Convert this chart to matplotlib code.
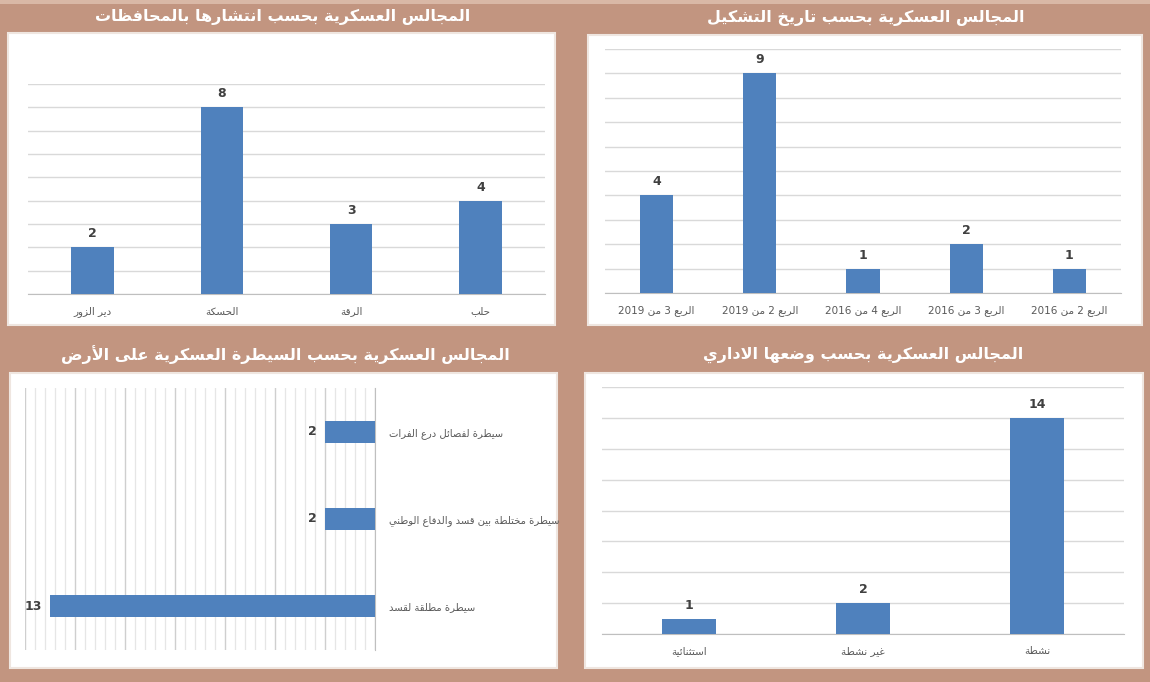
import matplotlib
matplotlib.use("Agg")
import matplotlib.pyplot as plt
from matplotlib.patches import Rectangle
from matplotlib.ticker import MultipleLocator

# data
gov_labels = ["دير الزور", "الحسكة", "الرقة", "حلب"]
gov_values = [2, 8, 3, 4]

date_labels = ["الربع 3 من 2019", "الربع 2 من 2019", "الربع 4 من 2016",
               "الربع 3 من 2016", "الربع 2 من 2016"]
date_values = [4, 9, 1, 2, 1]

control_labels = ["سيطرة لفصائل درع الفرات",
                  "سيطرة مختلطة بين قسد والدفاع الوطني",
                  "سيطرة مطلقة لقسد"]
control_values = [2, 2, 13]

status_labels = ["استثنائية", "غير نشطة", "نشطة"]
status_values = [1, 2, 14]

title_gov = "المجالس العسكرية بحسب انتشارها بالمحافظات"
title_date = "المجالس العسكرية بحسب تاريخ التشكيل"
title_control = "المجالس العسكرية بحسب السيطرة العسكرية على الأرض"
title_status = "المجالس العسكرية بحسب وضعها الاداري"

# matplotlib has no arabic shaping, so do a small one by hand
DUAL = {'ب': 0xFE8F, 'ت': 0xFE95, 'ث': 0xFE99, 'ج': 0xFE9D, 'ح': 0xFEA1,
        'خ': 0xFEA5, 'س': 0xFEB1, 'ش': 0xFEB5, 'ص': 0xFEB9, 'ض': 0xFEBD,
        'ط': 0xFEC1, 'ظ': 0xFEC5, 'ع': 0xFEC9, 'غ': 0xFECD, 'ف': 0xFED1,
        'ق': 0xFED5, 'ك': 0xFED9, 'ل': 0xFEDD, 'م': 0xFEE1, 'ن': 0xFEE5,
        'ه': 0xFEE9, 'ي': 0xFEF1, 'ئ': 0xFE89}
RIGHT = {'ا': 0xFE8D, 'أ': 0xFE83, 'إ': 0xFE87, 'آ': 0xFE81, 'ة': 0xFE93,
         'د': 0xFEA9, 'ذ': 0xFEAB, 'ر': 0xFEAD, 'ز': 0xFEAF, 'و': 0xFEED,
         'ى': 0xFEEF}
LAM_ALEF = {'ا': 0xFEFB, 'أ': 0xFEF7, 'إ': 0xFEF9, 'آ': 0xFEF5}


def shape_word(w):
    chars = []
    i = 0
    while i < len(w):
        c = w[i]
        if c == 'ل' and i + 1 < len(w) and w[i + 1] in LAM_ALEF:
            chars.append(('R', LAM_ALEF[w[i + 1]]))
            i += 2
            continue
        if c in DUAL:
            chars.append(('D', DUAL[c]))
        elif c in RIGHT:
            chars.append(('R', RIGHT[c]))
        else:
            chars.append(('N', c))
        i += 1
    out = []
    for k, (kind, val) in enumerate(chars):
        if kind == 'N':
            out.append(val)
            continue
        prev_join = k > 0 and chars[k - 1][0] == 'D'
        next_join = kind == 'D' and k + 1 < len(chars) and chars[k + 1][0] in 'DR'
        if kind == 'D':
            off = 3 if (prev_join and next_join) else 1 if prev_join else 2 if next_join else 0
        else:
            off = 1 if prev_join else 0
        out.append(chr(val + off))
    return ''.join(out)[::-1]


def ar(text):
    words = []
    for w in text.split(' '):
        if any('\u0600' <= c <= '\u06FF' for c in w):
            words.append(shape_word(w))
        else:
            words.append(w)
    return ' '.join(reversed(words))


W, H = 1150, 682
BG = '#C29580'
BLUE = '#4F81BD'
GRID = '#D9D9D9'
LABEL = '#595959'
VAL = '#404040'

fig = plt.figure(figsize=(W / 100, H / 100), dpi=100, facecolor=BG)


def rect(x0, y0, x1, y1):
    return [x0 / W, 1 - y1 / H, (x1 - x0) / W, (y1 - y0) / H]


def box(x0, y0, x1, y1):
    fig.add_artist(Rectangle((x0 / W, 1 - y1 / H), (x1 - x0) / W, (y1 - y0) / H,
                             transform=fig.transFigure, facecolor='white',
                             edgecolor='#EFE6E0', linewidth=1.5, zorder=-1))


def title(x, y, text):
    fig.text(x / W, 1 - y / H, ar(text), color='white', fontsize=11.5,
             fontweight='bold', ha='center', va='center')


def column_panel(pos, labels, values, ymax, step, width):
    ax = fig.add_axes(rect(*pos))
    ax.set_facecolor('none')
    x = range(len(values))
    bars = ax.bar(x, values, width=width, color=BLUE, zorder=3)
    ax.bar_label(bars, padding=5, fontsize=9, fontweight='bold', color=VAL)
    ax.set_xlim(-0.5, len(values) - 0.5)
    ax.set_ylim(0, ymax)
    ax.yaxis.set_major_locator(MultipleLocator(step))
    ax.grid(axis='y', color=GRID, linewidth=1, zorder=0)
    ax.set_xticks(list(x))
    ax.set_xticklabels([ar(l) for l in labels], fontsize=7.5, color=LABEL)
    ax.tick_params(length=0, pad=9)
    ax.set_yticklabels([])
    for s in ['top', 'left', 'right']:
        ax.spines[s].set_visible(False)
    ax.spines['bottom'].set_color('#BFBFBF')
    return ax


# light strip along the top edge
fig.add_artist(Rectangle((0, 1 - 4 / H), 1, 4 / H, transform=fig.transFigure,
                         facecolor='#D9B8A6', edgecolor='none', zorder=-2))

# top left: by governorate
box(8, 33, 555, 325)
title(283, 17, title_gov)
column_panel((28, 84, 545, 294), gov_labels, gov_values, 9, 1, 0.33)

# top right: by formation date
box(588, 35, 1142, 325)
title(866, 18, title_date)
column_panel((605, 49, 1121, 293), date_labels, date_values, 10, 1, 0.32)

# bottom right: by status
box(585, 373, 1143, 668)
title(863, 355, title_status)
column_panel((602, 387, 1124, 634), status_labels, status_values, 16, 2, 0.31)

# bottom left: by territorial control (bars grow to the left)
box(10, 373, 557, 668)
title(285, 355, title_control)
ax = fig.add_axes(rect(25, 388, 375, 650))
ax.set_facecolor('none')
y = list(range(len(control_values)))
ax.barh(y, control_values, height=0.25, color=BLUE, zorder=3)
for yi, v in zip(y, control_values):
    ax.annotate(str(v), (v, yi), xytext=(-6, 0), textcoords='offset points',
                ha='right', va='center', fontsize=9, fontweight='bold', color=VAL)
ax.set_xlim(14, 0)
ax.set_ylim(len(control_values) - 0.5, -0.5)
ax.xaxis.set_major_locator(MultipleLocator(2))
ax.xaxis.set_minor_locator(MultipleLocator(0.4))
ax.grid(axis='x', which='major', color='#CFCFCF', linewidth=1, zorder=0)
ax.grid(axis='x', which='minor', color='#E6E6E6', linewidth=0.9, zorder=0)
ax.yaxis.tick_right()
ax.set_yticks(y)
ax.set_yticklabels([ar(l) for l in control_labels], fontsize=7.2, color=LABEL)
ax.tick_params(axis='y', length=0, pad=10)
ax.tick_params(axis='x', which='both', length=0, labelbottom=False)
for s in ax.spines.values():
    s.set_visible(False)
ax.spines['right'].set_visible(True)
ax.spines['right'].set_color('#BFBFBF')

fig.savefig('out.png', dpi=100, facecolor=BG)
